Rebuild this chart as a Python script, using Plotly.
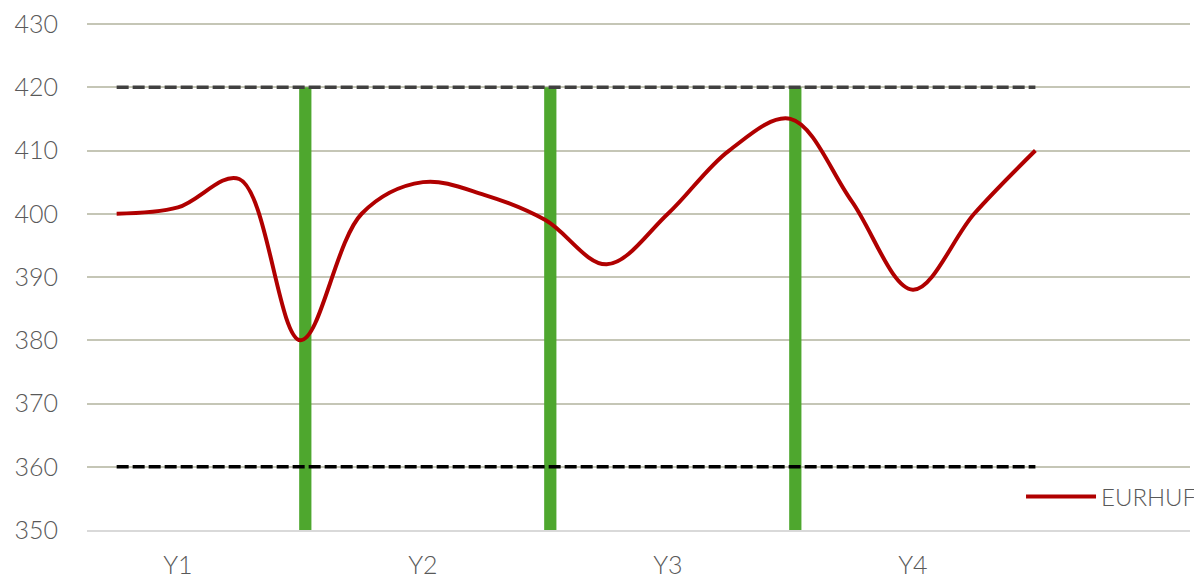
import plotly.graph_objects as go

# Data
x_pos = [0.75, 1.0, 1.25, 1.5, 1.75, 2.0, 2.25, 2.5, 2.75, 3.0, 3.25, 3.5, 3.75, 4.0, 4.25, 4.5]
eurhuf = [400, 401, 405.5, 380, 400, 405, 403, 399, 392, 400, 410, 415, 402, 388, 400, 410]
upper_band = 420
lower_band = 360
divider_x = [1.52, 2.52, 3.52]
category_vals = [1, 2, 3, 4]
category_labels = ["Y1", "Y2", "Y3", "Y4"]
y_ticks = [350, 360, 370, 380, 390, 400, 410, 420, 430]

FONT = "Lato"
fig = go.Figure()

fig.add_trace(go.Bar(
    x=divider_x, y=[upper_band - 350] * len(divider_x), base=350,
    width=0.05, marker=dict(color="#4EA72E", line=dict(width=0)),
    showlegend=False, hoverinfo="skip"))

fig.add_trace(go.Scatter(
    x=[x_pos[0], x_pos[-1]], y=[upper_band, upper_band], mode="lines",
    line=dict(color="#404040", width=3.5, dash="12px,4px"),
    showlegend=False, hoverinfo="skip"))
fig.add_trace(go.Scatter(
    x=[x_pos[0], x_pos[-1]], y=[lower_band, lower_band], mode="lines",
    line=dict(color="#000000", width=3.5, dash="12px,4px"),
    showlegend=False, hoverinfo="skip"))

fig.add_trace(go.Scatter(
    x=x_pos, y=eurhuf, mode="lines", name="EURHUF",
    line=dict(color="#B00000", width=4, shape="spline", smoothing=1.0)))

fig.update_layout(
    width=1194, height=571,
    margin=dict(l=79, r=12, t=14, b=49, autoexpand=False),
    paper_bgcolor="white", plot_bgcolor="white",
    font=dict(family=FONT, size=25, color="#595959", weight=300),
    showlegend=True,
    legend=dict(x=1.0109, y=0.065, xanchor="right", yanchor="middle",
                itemwidth=70,
                bgcolor="rgba(0,0,0,0)", font=dict(size=24, color="#595959", family=FONT, weight=300)),
    xaxis=dict(range=[0.629, 5.131], tickvals=category_vals, ticktext=category_labels,
               showgrid=False, zeroline=False, showline=True, linecolor="#D9D9D9",
               linewidth=2, ticks="", ticklabelstandoff=12, automargin=False,
               ticklabeloverflow="allow",
               tickfont=dict(family=FONT, size=25, color="#595959", weight=300)),
    yaxis=dict(range=[350, 430.32], tickvals=y_ticks, showgrid=True,
               gridcolor="#C5C6B6", gridwidth=2, zeroline=False, showline=False,
               ticks="", ticklabelstandoff=28, automargin=False,
               ticklabeloverflow="allow",
               tickfont=dict(family=FONT, size=25, color="#595959", weight=300)),
)

fig.write_html("out.html")
